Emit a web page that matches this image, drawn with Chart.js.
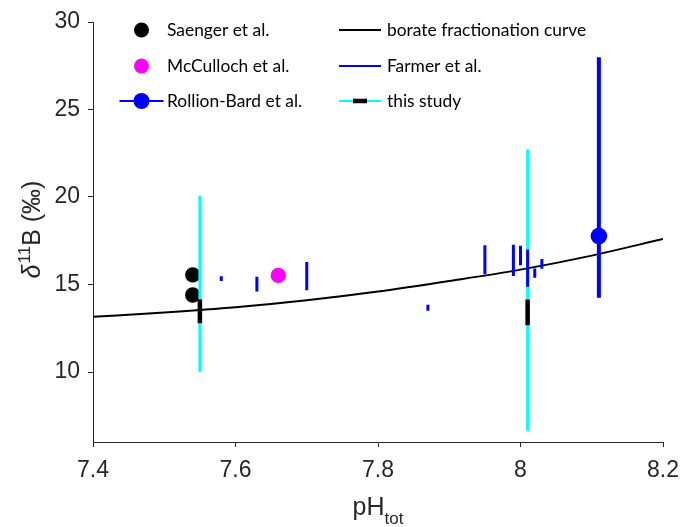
<!DOCTYPE html>
<html>
<head>
<meta charset="utf-8">
<script src="https://cdn.jsdelivr.net/npm/chart.js@4.4.1/dist/chart.umd.min.js"></script>
<style>
  html, body { margin: 0; padding: 0; background: #fff; }
  #wrap { width: 680px; height: 527px; }
</style>
</head>
<body>
<div id="wrap"><canvas id="c" width="680" height="527"></canvas></div>
<script>
// pH (total scale) against δ11B (‰)
const saengerPH = [7.54, 7.54];
const saengerD11B = [15.55, 14.4];

const mccullochPH = [7.66];
const mccullochD11B = [15.52];

const rollionPH = [8.11];
const rollionD11B = [17.77];
const rollionLow = [14.25];
const rollionHigh = [27.98];

const farmerPH   = [7.58, 7.63, 7.70, 7.87, 7.95, 7.99, 8.00, 8.01, 8.02, 8.03];
const farmerLow  = [15.2, 14.6, 14.67, 13.5, 15.58, 15.49, 16.1, 14.87, 15.39, 15.9];
const farmerHigh = [15.47, 15.45, 16.29, 13.85, 17.24, 17.27, 17.22, 17.0, 15.92, 16.46];

const studyPH = [7.55, 8.01];
const studyLow = [12.78, 12.67];
const studyHigh = [14.16, 14.14];
const studyRangeLow = [10.0, 6.65];
const studyRangeHigh = [20.07, 22.72];

const curvePH   = [7.4, 7.5, 7.6, 7.7, 7.8, 7.9, 8.0, 8.1, 8.2];
const curveD11B = [13.15, 13.4, 13.7, 14.1, 14.6, 15.2, 15.85, 16.65, 17.6];

const xTicks = [7.4, 7.6, 7.8, 8.0, 8.2];
const yTicks = [10, 15, 20, 25, 30];

const AXIS_FONT = "'Liberation Sans', Arial, Helvetica, sans-serif";
const LEGEND_FONT = "Lato, 'Open Sans', sans-serif";
const INK = '#262626';

// vertical bars: low -> high, separated by gaps
function verticalBars(xs, lo, hi) {
  const pts = [];
  xs.forEach((x, i) => {
    pts.push({ x: x, y: lo[i] }, { x: x, y: hi[i] }, { x: x, y: null });
  });
  return pts;
}
function points(xs, ys) {
  return xs.map((x, i) => ({ x: x, y: ys[i] }));
}

function barSet(data, color, width, order) {
  return {
    data: data, showLine: true, spanGaps: false, pointRadius: 0,
    borderColor: color, borderWidth: width, borderCapStyle: 'butt',
    order: order
  };
}
function dotSet(data, color, radius, order) {
  return {
    data: data, showLine: false, pointRadius: radius, pointStyle: 'circle',
    backgroundColor: color, borderColor: color, borderWidth: 0, order: order
  };
}

const legendAndTitles = {
  id: 'legendAndTitles',
  afterDraw(chart) {
    const ctx = chart.ctx;
    const a = chart.chartArea;
    ctx.save();

    // legend, two columns inside the axes
    const rows = [a.top + 8, a.top + 44, a.top + 79];
    const mx = a.left + 48.5;
    const tx1 = a.left + 74;
    const lx0 = a.left + 246, lx1 = a.left + 288;
    const tx2 = a.left + 294;
    ctx.font = '17.4px ' + LEGEND_FONT;
    ctx.textBaseline = 'middle';
    ctx.textAlign = 'left';

    function dot(x, y, r, c) {
      ctx.fillStyle = c;
      ctx.beginPath();
      ctx.arc(x, y, r, 0, Math.PI * 2);
      ctx.fill();
    }
    function seg(x0, x1, y, c, w) {
      ctx.strokeStyle = c;
      ctx.lineWidth = w;
      ctx.lineCap = 'butt';
      ctx.beginPath();
      ctx.moveTo(x0, y);
      ctx.lineTo(x1, y);
      ctx.stroke();
    }

    dot(mx, rows[0], 7.5, '#000000');
    dot(mx, rows[1], 7.5, '#ff00ff');
    seg(mx - 22, mx + 22, rows[2], '#0000ff', 2);
    dot(mx, rows[2], 8, '#0000ff');

    seg(lx0, lx1, rows[0], '#000000', 2);
    seg(lx0, lx1, rows[1], '#0000ff', 2);
    seg(lx0, lx1, rows[2], '#00ffff', 2);
    seg(lx0 + 14, lx0 + 28, rows[2], '#000000', 4.5);

    ctx.fillStyle = '#000000';
    ctx.fillText('Saenger et al.', tx1, rows[0]);
    ctx.fillText('McCulloch et al.', tx1, rows[1]);
    ctx.fillText('Rollion-Bard et al.', tx1, rows[2]);
    ctx.fillText('borate fractionation curve', tx2, rows[0]);
    ctx.fillText('Farmer et al.', tx2, rows[1]);
    ctx.fillText('this study', tx2, rows[2]);

    // axis titles
    ctx.fillStyle = INK;
    ctx.textBaseline = 'alphabetic';

    // x title: pH with subscript "tot"
    const big = '25px ' + AXIS_FONT;
    const small = '17px ' + AXIS_FONT;
    ctx.font = big;
    const wPH = ctx.measureText('pH').width;
    ctx.font = small;
    const wTot = ctx.measureText('tot').width;
    const cx = (a.left + a.right) / 2;
    let x = cx - (wPH + wTot) / 2;
    ctx.font = big;
    ctx.fillText('pH', x, 515);
    ctx.font = small;
    ctx.fillText('tot', x + wPH, 524);

    // y title: italic delta, superscript 11, B (‰)
    ctx.save();
    ctx.translate(40, (a.top + a.bottom) / 2 - 2);
    ctx.rotate(-Math.PI / 2);
    ctx.font = 'italic 25px ' + AXIS_FONT;
    const wD = ctx.measureText('\u03B4').width;
    ctx.font = small;
    const w11 = ctx.measureText('11').width;
    ctx.font = big;
    const wB = ctx.measureText('B (\u2030)').width;
    x = -(wD + w11 + wB) / 2;
    ctx.font = 'italic 25px ' + AXIS_FONT;
    ctx.fillText('\u03B4', x, 0);
    ctx.font = small;
    ctx.fillText('11', x + wD + 1, -10);
    ctx.font = big;
    ctx.fillText('B (\u2030)', x + wD + w11 + 1, 0);
    ctx.restore();

    ctx.restore();
  }
};

const axisCommon = {
  type: 'linear',
  grid: { display: true, drawOnChartArea: false, drawTicks: true, tickLength: 5, color: INK, lineWidth: 1 },
  border: { display: true, color: INK, width: 1 },
};

new Chart(document.getElementById('c'), {
  type: 'scatter',
  data: {
    datasets: [
      dotSet(points(rollionPH, rollionD11B), '#0000ff', 8.3, 0),
      barSet(verticalBars(rollionPH, rollionLow, rollionHigh), '#0000ff', 4, 1),
      barSet(verticalBars(farmerPH, farmerLow, farmerHigh), '#0000ff', 3, 2),
      barSet(verticalBars(studyPH, studyLow, studyHigh), '#000000', 4.5, 3),
      barSet(verticalBars(studyPH, studyRangeLow, studyRangeHigh), '#00ffff', 3, 4),
      {
        data: points(curvePH, curveD11B), showLine: true, pointRadius: 0,
        borderColor: '#000000', borderWidth: 2, cubicInterpolationMode: 'monotone', order: 5
      },
      dotSet(points(mccullochPH, mccullochD11B), '#ff00ff', 7.7, 6),
      dotSet(points(saengerPH, saengerD11B), '#000000', 7.7, 7)
    ]
  },
  options: {
    responsive: false,
    animation: false,
    devicePixelRatio: 1,
    layout: { padding: { top: 22, right: 17, left: 0, bottom: 0 } },
    plugins: { legend: { display: false }, tooltip: { enabled: false } },
    scales: {
      x: Object.assign({}, axisCommon, {
        position: 'bottom', min: 7.4, max: 8.2,
        afterBuildTicks: s => { s.ticks = xTicks.map(v => ({ value: v })); },
        afterFit: s => { s.height = 85; s.paddingLeft = 0; s.paddingRight = 0; },
        ticks: {
          autoSkip: false, maxRotation: 0, padding: 10, color: INK,
          font: { family: AXIS_FONT, size: 23 },
          callback: v => String(Math.round(v * 10) / 10)
        }
      }),
      y: Object.assign({}, axisCommon, {
        position: 'left', min: 6, max: 30,
        afterBuildTicks: s => { s.ticks = yTicks.map(v => ({ value: v })); },
        afterFit: s => { s.width = 93; s.paddingTop = 0; s.paddingBottom = 0; },
        ticks: {
          autoSkip: false, padding: 8, color: INK,
          font: { family: AXIS_FONT, size: 23 },
          callback: v => String(v)
        }
      })
    }
  },
  plugins: [legendAndTitles]
});
</script>
</body>
</html>
